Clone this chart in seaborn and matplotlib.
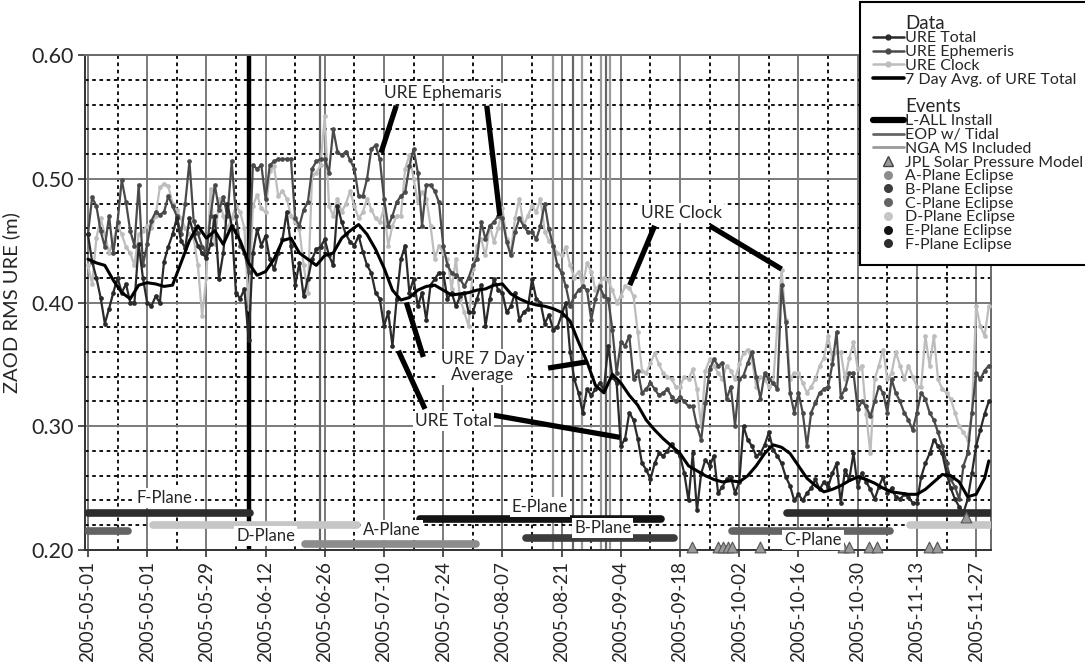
import numpy as np
import matplotlib
matplotlib.use("Agg")
import matplotlib.pyplot as plt
import seaborn as sns
from matplotlib.lines import Line2D
from matplotlib.ticker import MultipleLocator

sns.set_theme(style="white")
plt.rcParams["font.family"] = ["Lato", "DejaVu Sans"]

# daily values, day 0 = 2005-05-01
ure_total = [
    .455, .433, .420, .404, .383, .395, .408,
    .420, .408, .415, .400, .400, .447, .420,
    .400, .397, .405, .400, .433, .445, .455,
    .468, .450, .444, .468, .455, .446, .440,
    .436, .447, .470, .419, .440, .480, .462,
    .408, .403, .411, .370, .440, .459, .446,
    .454, .435, .427, .440, .451, .473, .446,
    .414, .432, .405, .419, .435, .443, .445,
    .451, .438, .430, .478, .465, .455, .449,
    .446, .454, .441, .430, .424, .408, .403,
    .381, .392, .365, .403, .435, .446, .408,
    .419, .397, .408, .386, .414, .419, .424,
    .424, .403, .408, .397, .405, .408, .392,
    .392, .403, .414, .381, .403, .419, .410,
    .408, .392, .397, .408, .386, .392, .395,
    .419, .403, .400, .383, .390, .378, .380,
    .390, .400, .360, .338, .327, .311, .330,
    .325, .330, .335, .330, .365, .340, .335,
    .284, .290, .311, .305, .290, .270, .265,
    .257, .270, .278, .276, .280, .286, .280,
    .276, .262, .240, .278, .232, .262, .273,
    .268, .276, .246, .251, .257, .259, .246,
    .255, .300, .289, .284, .276, .278, .285,
    .295, .281, .276, .270, .259, .252, .240,
    .245, .240, .246, .250, .257, .249, .255,
    .251, .262, .270, .238, .265, .257, .278,
    .251, .262, .255, .249, .241, .251, .259,
    .246, .250, .243, .241, .245, .243, .238,
    .238, .259, .270, .278, .289, .284, .278,
    .262, .250, .241, .235, .230, .241, .262,
    .284, .297, .310, .320,
]

ure_ephemeris = [
    .455, .485, .478, .458, .445, .470, .440,
    .465, .499, .481, .458, .446, .495, .430,
    .447, .466, .473, .471, .473, .486, .478,
    .470, .455, .480, .514, .466, .456, .445,
    .440, .470, .495, .475, .485, .470, .514,
    .470, .446, .440, .425, .511, .508, .511,
    .484, .511, .514, .516, .516, .516, .516,
    .468, .462, .475, .481, .508, .514, .516,
    .516, .505, .540, .522, .519, .522, .515,
    .508, .486, .486, .500, .524, .527, .516,
    .484, .462, .470, .481, .486, .489, .510,
    .524, .505, .462, .495, .495, .490, .481,
    .446, .430, .424, .422, .419, .413, .420,
    .430, .435, .465, .451, .462, .465, .470,
    .468, .449, .438, .457, .468, .462, .457,
    .457, .451, .462, .480, .459, .446, .430,
    .424, .413, .397, .405, .410, .413, .410,
    .386, .403, .413, .405, .403, .378, .343,
    .368, .365, .373, .338, .345, .327, .330,
    .335, .330, .325, .327, .330, .324, .320,
    .324, .320, .316, .316, .300, .289, .319,
    .346, .354, .349, .351, .322, .332, .300,
    .338, .341, .351, .360, .340, .322, .343,
    .338, .335, .330, .414, .384, .327, .311,
    .327, .311, .284, .311, .319, .327, .330,
    .332, .350, .376, .324, .330, .343, .343,
    .314, .320, .316, .308, .320, .332, .327,
    .311, .338, .327, .320, .311, .305, .297,
    .311, .327, .322, .311, .305, .295, .284,
    .270, .257, .251, .241, .268, .278, .311,
    .343, .338, .345, .349,
]

ure_clock = [
    .430, .415, .452, .468, .455, .440, .450,
    .463, .455, .445, .440, .430, .455, .458,
    .462, .460, .470, .493, .496, .494, .480,
    .475, .468, .460, .455, .452, .430, .389,
    .420, .492, .447, .484, .470, .460, .468,
    .478, .473, .460, .395, .478, .487, .476,
    .473, .506, .510, .486, .490, .484, .470,
    .465, .459, .430, .408, .503, .505, .511,
    .551, .478, .470, .484, .473, .480, .490,
    .478, .468, .473, .484, .475, .468, .465,
    .476, .446, .462, .470, .470, .508, .519,
    .500, .481, .489, .484, .462, .435, .446,
    .440, .435, .411, .435, .403, .392, .381,
    .427, .446, .451, .438, .462, .449, .460,
    .476, .451, .441, .468, .484, .462, .470,
    .478, .473, .484, .457, .450, .446, .440,
    .438, .445, .430, .420, .425, .413, .432,
    .425, .410, .415, .420, .418, .410, .400,
    .405, .413, .412, .405, .376, .345, .343,
    .351, .359, .350, .343, .340, .338, .332,
    .332, .340, .338, .346, .330, .300, .345,
    .354, .349, .343, .338, .349, .345, .338,
    .350, .359, .362, .354, .332, .340, .338,
    .332, .335, .380, .426, .386, .338, .343,
    .343, .335, .327, .332, .338, .349, .355,
    .373, .354, .360, .360, .338, .355, .368,
    .346, .349, .310, .278, .338, .349, .362,
    .338, .343, .360, .349, .338, .349, .340,
    .332, .332, .373, .349, .373, .338, .330,
    .327, .322, .311, .300, .295, .289, .311,
    .397, .381, .373, .397,
]

# 7 day average of URE Total, read every other day
avg_days = list(range(0, 213, 2)) + [213]
avg_total = [
    .435, .432, .430, .418, .408, .403, .414, .416, .415, .413,
    .414, .432, .450, .462, .452, .458, .447, .462, .450, .432,
    .422, .425, .435, .450, .452, .440, .435, .430, .438, .440,
    .452, .458, .463, .455, .443, .428, .410, .402, .404, .410,
    .413, .414, .410, .406, .407, .408, .410, .411, .414, .415,
    .407, .403, .400, .398, .397, .395, .392, .385, .368, .352,
    .333, .327, .342, .335, .325, .317, .305, .297, .290, .284,
    .278, .268, .264, .260, .257, .255, .256, .255, .260, .268,
    .278, .285, .283, .278, .268, .258, .252, .247, .249, .252,
    .256, .259, .257, .254, .250, .247, .246, .245, .245, .249,
    .255, .261, .260, .255, .243, .245, .258, .272,
]

tick_days = [0, 14, 28, 42, 56, 70, 84, 98, 112, 126, 140, 154, 168, 182, 196, 210]
tick_labels = ["2005-05-01", "2005-05-01", "2005-05-29", "2005-06-12",
               "2005-06-26", "2005-07-10", "2005-07-24", "2005-08-07",
               "2005-08-21", "2005-09-04", "2005-09-18", "2005-10-02",
               "2005-10-16", "2005-10-30", "2005-11-13", "2005-11-27"]

# events
lall_days = [38.1]
eop_days = [54.8, 114.7, 122.5]
nga_days = [110.0, 116.7, 121.4, 123.4]
jpl_days = [142.8, 148.9, 150.1, 151.3, 152.2, 158.9, 178.5, 179.9,
            184.6, 186.5, 198.8, 200.7, 207.6]
jpl_level = [.2025] * 12 + [.2265]

# eclipse seasons: plane, first day, last day
ecl_plane = ["F", "C", "D", "A", "E", "B", "C", "F", "D"]
ecl_start = [0.0, 0.0, 15.4, 51.3, 78.5, 103.5, 152.2, 165.2, 194.3]
ecl_end = [38.3, 9.5, 63.6, 91.7, 135.5, 138.5, 189.6, 213.5, 213.5]
plane_level = {"A": .205, "B": .21, "C": .215, "D": .22, "E": .225, "F": .23}
plane_color = {"A": "#8c8c8c", "B": "#3c3c3c", "C": "#636363",
               "D": "#c6c6c6", "E": "#141414", "F": "#2d2d2d"}

plane_labels = ["F-Plane", "D-Plane", "A-Plane", "E-Plane", "B-Plane", "C-Plane"]
plane_lab_x = [18.2, 42.1, 71.9, 106.9, 121.7, 171.4]
plane_lab_y = [.242, .211, .216, .235, .218, .208]

note_text = ["URE Ephemaris", "URE Clock", "URE 7 Day\nAverage", "URE Total"]
note_x = [83.9, 140.4, 93.4, 86.5]
note_y = [.569, .472, .348, .304]
# leader lines: x0, y0, x1, y1
leaders = [
    (72.9, .559, 69.3, .521), (94.3, .559, 97.4, .470),
    (134.0, .462, 128.1, .414), (147.0, .462, 164.0, .427),
    (75.3, .400, 79.3, .356), (108.8, .347, 117.9, .352),
    (73.4, .361, 79.7, .314), (95.8, .309, 125.8, .291),
]

total_c, eph_c, clock_c = "#2a2a2a", "#4a4a4a", "#bdbdbd"

fig = plt.figure(figsize=(10.85, 6.62), dpi=100)
ax = fig.add_axes([0.0783, 0.1692, 0.835, 0.7477])

ax.set_xlim(-0.7, 213.5)
ax.set_ylim(0.2, 0.6)
ax.xaxis.set_minor_locator(MultipleLocator(7))
ax.yaxis.set_minor_locator(MultipleLocator(0.02))
ax.grid(which="major", color="#7a7a7a", lw=1.4, ls="-", zorder=0)
ax.grid(which="minor", color="black", lw=1.3, ls=(0, (2.0, 2.0)), zorder=0)
ax.set_axisbelow(True)

for d in lall_days:
    ax.axvline(d, color="black", lw=3.2, zorder=2)
for d in eop_days:
    ax.axvline(d, color="#666666", lw=1.6, zorder=2)
for d in nga_days:
    ax.axvline(d, color="#9a9a9a", lw=1.6, zorder=2)

days = np.arange(len(ure_total))
sns.lineplot(x=np.arange(len(ure_clock)), y=ure_clock, color=clock_c, lw=1.6,
             marker="o", markersize=3.4, markeredgewidth=0, ax=ax, zorder=3)
sns.lineplot(x=np.arange(len(ure_ephemeris)), y=ure_ephemeris, color=eph_c, lw=1.6,
             marker="o", markersize=3.4, markeredgewidth=0, ax=ax, zorder=4)
sns.lineplot(x=days, y=ure_total, color=total_c, lw=1.6,
             marker="o", markersize=3.4, markeredgewidth=0, ax=ax, zorder=5)
sns.lineplot(x=avg_days, y=avg_total, color="black", lw=2.2, ax=ax, zorder=6)

for p, a, b in zip(ecl_plane, ecl_start, ecl_end):
    ax.plot([a, b], [plane_level[p]] * 2, color=plane_color[p], lw=5.5,
            solid_capstyle="round", zorder=7)

ax.scatter(jpl_days, jpl_level, marker="^", s=60, color="#9a9a9a",
           edgecolor="#555555", linewidth=0.8, zorder=8, clip_on=False)

for t, x, y in zip(plane_labels, plane_lab_x, plane_lab_y):
    ax.text(x, y, t, ha="center", va="center", fontsize=12, zorder=9,
            bbox=dict(facecolor="white", edgecolor="none", pad=1.5))

for x0, y0, x1, y1 in leaders:
    ax.plot([x0, x1], [y0, y1], color="black", lw=3.8, solid_capstyle="butt", zorder=9)
for t, x, y in zip(note_text, note_x, note_y):
    ax.text(x, y, t, ha="center", va="center", fontsize=12.5, zorder=10,
            linespacing=0.95, bbox=dict(facecolor="white", edgecolor="none", pad=1.5))

ax.set_xticks(tick_days)
ax.set_xticklabels(tick_labels, rotation=90, fontsize=13.5)
ax.set_yticks([0.2, 0.3, 0.4, 0.5, 0.6])
ax.set_yticklabels(["0.20", "0.30", "0.40", "0.50", "0.60"], fontsize=15.5)
ax.tick_params(which="major", direction="out", length=5, width=1.2, color="#333333",
               bottom=True, left=True, pad=3)
ax.set_ylabel("ZAOD RMS URE (m)", fontsize=14.5, labelpad=8)
for s in ax.spines.values():
    s.set_color("#6a6a6a")
    s.set_linewidth(1.4)
ax.spines["left"].set_color("#333333")
ax.spines["bottom"].set_color("#333333")

blank = Line2D([], [], ls="none")
handles = [
    blank,
    Line2D([], [], color=total_c, lw=1.8, marker="o", ms=3.5),
    Line2D([], [], color=eph_c, lw=1.8, marker="o", ms=3.5),
    Line2D([], [], color=clock_c, lw=1.8, marker="o", ms=3.5),
    Line2D([], [], color="black", lw=2.6),
    blank,
    blank,
    Line2D([], [], color="black", lw=4.5),
    Line2D([], [], color="#666666", lw=2),
    Line2D([], [], color="#9a9a9a", lw=2),
    Line2D([], [], ls="none", marker="^", ms=6.5, mfc="#9a9a9a", mec="#444444"),
] + [Line2D([], [], ls="none", marker="o", ms=6.5, color=plane_color[p], mec="none")
     for p in "ABCDEF"]
labels = ["Data", "URE Total", "URE Ephemeris", "URE Clock", "7 Day Avg. of URE Total",
          " ", "Events", "L-ALL Install", "EOP w/ Tidal", "NGA MS Included",
          "JPL Solar Pressure Model"] + [p + "-Plane Eclipse" for p in "ABCDEF"]

leg = ax.legend(handles, labels, loc="upper left", bbox_to_anchor=(0.793, 0.997),
                bbox_transform=fig.transFigure, fontsize=11.5, frameon=True,
                fancybox=False, edgecolor="black", framealpha=1, borderpad=0.8,
                labelspacing=-0.03, handlelength=1.9, handletextpad=0.1,
                borderaxespad=0)
leg.get_frame().set_linewidth(1.5)
for txt in leg.get_texts():
    if txt.get_text() in ("Data", "Events"):
        txt.set_fontsize(13.5)
    if txt.get_text() == " ":
        txt.set_fontsize(4)
leg.set_zorder(20)

fig.savefig("out.png", dpi=100)
